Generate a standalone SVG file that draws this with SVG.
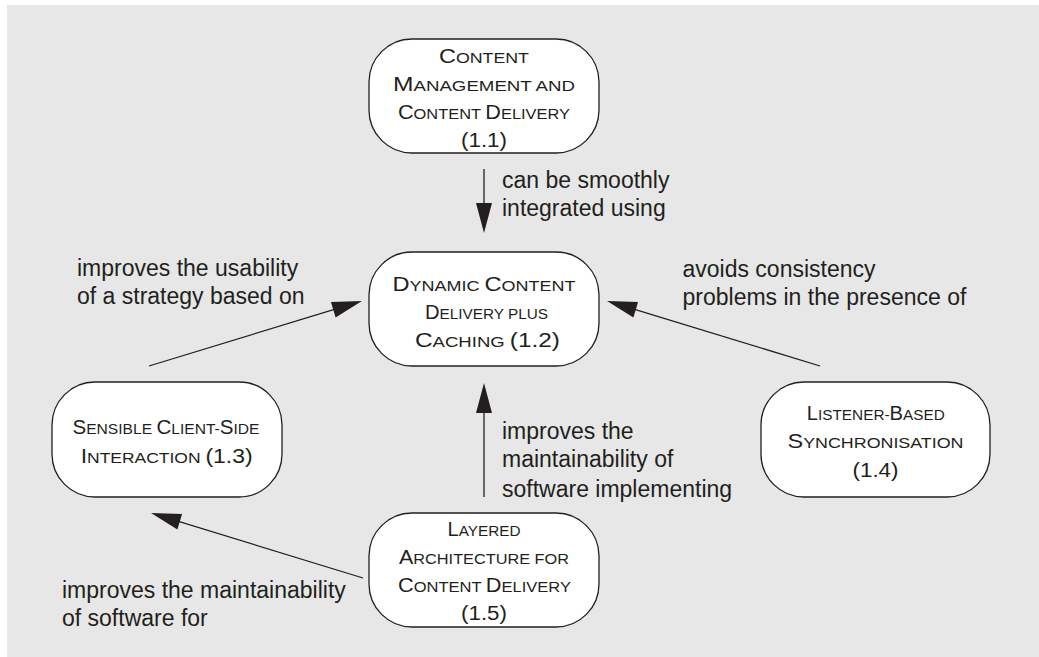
<svg xmlns="http://www.w3.org/2000/svg" width="1039" height="657" viewBox="0 0 1039 657">
  <style>
    .node rect { fill: #ffffff; stroke: #231f20; stroke-width: 1.3; }
    .node text { font-family: "Liberation Sans", Arial, sans-serif; fill: #231f20; text-anchor: middle; }
    .b { font-size: 20px; }
    .s { font-size: 15.2px; }
    .edge { stroke: #231f20; stroke-width: 1.3; fill: none; marker-end: url(#head); }
    .lbl { font-family: "Liberation Sans", Arial, sans-serif; font-size: 23px; fill: #231f20; }
  </style>
  <defs>
    <marker id="head" markerUnits="userSpaceOnUse" markerWidth="32" markerHeight="18" refX="20" refY="8" orient="auto" overflow="visible">
      <path d="M0,0 L30,8 L0,16 Z" fill="#231f20"/>
    </marker>
  </defs>

  <rect x="0" y="0" width="1039" height="657" fill="#ffffff"/>
  <rect x="7" y="5" width="1032" height="652" fill="#e6e7e6"/>

  <!-- connectors -->
  <g id="edges">
    <line class="edge" x1="484" y1="169" x2="484" y2="223"/>
    <line class="edge" x1="149" y1="366" x2="352.4" y2="303.9"/>
    <line class="edge" x1="820" y1="366" x2="616.6" y2="303.9"/>
    <line class="edge" x1="484" y1="497" x2="484" y2="393"/>
    <line class="edge" x1="363" y1="578" x2="160.6" y2="515.9"/>
  </g>

  <!-- connector labels -->
  <g id="labels">
    <text class="lbl" x="502" y="187.5">can be smoothly</text>
    <text class="lbl" x="502" y="215.5">integrated using</text>
    <text class="lbl" x="77" y="276">improves the usability</text>
    <text class="lbl" x="77" y="303.5">of a strategy based on</text>
    <text class="lbl" x="682.5" y="277">avoids consistency</text>
    <text class="lbl" x="682.5" y="305">problems in the presence of</text>
    <text class="lbl" x="502" y="438.5">improves the</text>
    <text class="lbl" x="502" y="467">maintainability of</text>
    <text class="lbl" x="502" y="496.5">software implementing</text>
    <text class="lbl" x="62" y="597.5">improves the maintainability</text>
    <text class="lbl" x="62" y="625.7">of software for</text>
  </g>

  <g id="n11" class="node">
    <rect x="369" y="39" width="230" height="114" rx="43" ry="43"/>
    <text x="484" y="63.3" textLength="90" lengthAdjust="spacingAndGlyphs"><tspan class="b">C</tspan><tspan class="s">ONTENT</tspan></text>
    <text x="484" y="90.7" textLength="182" lengthAdjust="spacingAndGlyphs"><tspan class="b">M</tspan><tspan class="s">ANAGEMENT AND</tspan></text>
    <text x="484" y="119" textLength="172" lengthAdjust="spacingAndGlyphs"><tspan class="b">C</tspan><tspan class="s">ONTENT </tspan><tspan class="b">D</tspan><tspan class="s">ELIVERY</tspan></text>
    <text x="484" y="146.5" textLength="46" lengthAdjust="spacingAndGlyphs"><tspan class="b">(1.1)</tspan></text>
  </g>

  <g id="n12" class="node">
    <rect x="369" y="252" width="230" height="114" rx="43" ry="43"/>
    <text x="484" y="290.7" textLength="183" lengthAdjust="spacingAndGlyphs"><tspan class="b">D</tspan><tspan class="s">YNAMIC </tspan><tspan class="b">C</tspan><tspan class="s">ONTENT</tspan></text>
    <text x="486.5" y="319.3" textLength="123" lengthAdjust="spacingAndGlyphs"><tspan class="b">D</tspan><tspan class="s">ELIVERY PLUS</tspan></text>
    <text x="487.5" y="346.7" textLength="145" lengthAdjust="spacingAndGlyphs"><tspan class="b">C</tspan><tspan class="s">ACHING </tspan><tspan class="b">(1.2)</tspan></text>
  </g>

  <g id="n13" class="node">
    <rect x="52" y="382" width="230" height="115" rx="43" ry="43"/>
    <text x="166" y="434" textLength="187" lengthAdjust="spacingAndGlyphs"><tspan class="b">S</tspan><tspan class="s">ENSIBLE </tspan><tspan class="b">C</tspan><tspan class="s">LIENT-</tspan><tspan class="b">S</tspan><tspan class="s">IDE</tspan></text>
    <text x="166.7" y="462.7" textLength="172" lengthAdjust="spacingAndGlyphs"><tspan class="b">I</tspan><tspan class="s">NTERACTION </tspan><tspan class="b">(1.3)</tspan></text>
  </g>

  <g id="n14" class="node">
    <rect x="761" y="382" width="229" height="115" rx="43" ry="43"/>
    <text x="875.8" y="420" textLength="138" lengthAdjust="spacingAndGlyphs"><tspan class="b">L</tspan><tspan class="s">ISTENER-</tspan><tspan class="b">B</tspan><tspan class="s">ASED</tspan></text>
    <text x="875.5" y="448.3" textLength="176" lengthAdjust="spacingAndGlyphs"><tspan class="b">S</tspan><tspan class="s">YNCHRONISATION</tspan></text>
    <text x="875.5" y="476.7" textLength="46" lengthAdjust="spacingAndGlyphs"><tspan class="b">(1.4)</tspan></text>
  </g>

  <g id="n15" class="node">
    <rect x="369" y="513" width="230" height="114" rx="43" ry="43"/>
    <text x="484" y="536" textLength="73" lengthAdjust="spacingAndGlyphs"><tspan class="b">L</tspan><tspan class="s">AYERED</tspan></text>
    <text x="484" y="564" textLength="170" lengthAdjust="spacingAndGlyphs"><tspan class="b">A</tspan><tspan class="s">RCHITECTURE FOR</tspan></text>
    <text x="484.5" y="592.3" textLength="173" lengthAdjust="spacingAndGlyphs"><tspan class="b">C</tspan><tspan class="s">ONTENT </tspan><tspan class="b">D</tspan><tspan class="s">ELIVERY</tspan></text>
    <text x="484" y="620" textLength="46" lengthAdjust="spacingAndGlyphs"><tspan class="b">(1.5)</tspan></text>
  </g>
</svg>
